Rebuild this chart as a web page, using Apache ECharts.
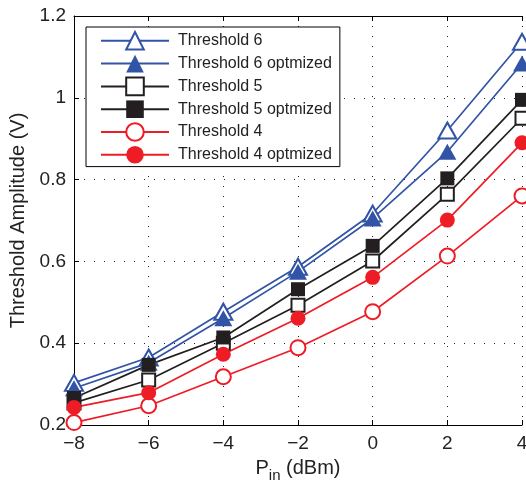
<!DOCTYPE html>
<html><head><meta charset="utf-8">
<script src="https://cdn.jsdelivr.net/npm/echarts@6/dist/echarts.min.js"></script>
<style>html,body{margin:0;padding:0;background:#fff}#c{width:526px;height:484px}</style>
</head><body><div id="c"></div>
<script>
var pin = [-8, -6, -4, -2, 0, 2, 4];
var th6    = [0.303, 0.365, 0.477, 0.587, 0.717, 0.920, 1.137];
var th6opt = [0.290, 0.352, 0.461, 0.575, 0.705, 0.868, 1.084];
var th5    = [0.254, 0.310, 0.400, 0.493, 0.601, 0.764, 0.950];
var th5opt = [0.266, 0.347, 0.414, 0.532, 0.638, 0.803, 0.995];
var th4    = [0.206, 0.247, 0.318, 0.389, 0.477, 0.613, 0.760];
var th4opt = [0.243, 0.279, 0.373, 0.461, 0.561, 0.701, 0.890];
var names = ['Threshold 6', 'Threshold 6 optmized', 'Threshold 5', 'Threshold 5 optmized', 'Threshold 4', 'Threshold 4 optmized'];

var BLUE = '#3254a6', BLACK = '#231f20', RED = '#ee1c25';
function pts(arr){ return pin.map(function(x,i){ return [x, arr[i]]; }); }
function ser(name, arr, color, symbol, size, empty){
  return {
    name: name, type: 'line', data: pts(arr), symbol: symbol, symbolSize: size,
    lineStyle: {color: color, width: 1.7},
    itemStyle: empty ? {color: color, borderColor: color, borderWidth: 1.7} : {color: color, borderColor: color, borderWidth: 0},
    color: color, z: 2, animation: false
  };
}
var font = 'Liberation Sans, Arial, Helvetica, sans-serif';
var chart = echarts.init(document.getElementById('c'));
chart.setOption({
  backgroundColor: '#fff',
  animation: false,
  grid: {left: 74, top: 16, right: 4, bottom: 59, outerBoundsMode: 'none', containLabel: false},
  legend: {
    orient: 'vertical', left: 86, top: 27,
    itemWidth: 68, itemHeight: 22, itemGap: 4.2,
    padding: [4, 8, 3, 14],
    borderColor: '#000', borderWidth: 1, backgroundColor: '#fff',
    textStyle: {fontFamily: font, fontSize: 16, color: '#222', padding: [0, 0, 0, 4]},
    data: names
  },
  xAxis: [{
    type: 'value', min: -8, max: 4, interval: 2,
    axisLine: {show: true, onZero: false, lineStyle: {color: '#000', width: 1}},
    axisTick: {show: true, inside: true, length: 5, lineStyle: {color: '#000'}},
    axisLabel: {fontFamily: font, fontSize: 19, color: '#222', margin: 9,
      formatter: function(v){ return String(v).replace('-', '\u2212'); }},
    splitLine: {show: true, lineStyle: {color: '#222', type: [1, 9], width: 1}},
    name: '{p|P}{s|in}{p| (dBm)}', nameLocation: 'middle', nameGap: 29,
    nameTextStyle: {fontFamily: font, color: '#222', rich: {
      p: {fontFamily: font, fontSize: 20, color: '#222'},
      s: {fontFamily: font, fontSize: 15, color: '#222', padding: [14, 0, 0, 0]}
    }}
  }, {
    type: 'value', min: -8, max: 4, interval: 2, position: 'top',
    axisLine: {show: true, onZero: false, lineStyle: {color: '#000', width: 1}},
    axisTick: {show: true, inside: true, length: 5, lineStyle: {color: '#000'}},
    axisLabel: {show: false}, splitLine: {show: false}
  }],
  yAxis: [{
    type: 'value', min: 0.2, max: 1.2, interval: 0.2,
    axisLine: {show: true, onZero: false, lineStyle: {color: '#000', width: 1}},
    axisTick: {show: true, inside: true, length: 5, lineStyle: {color: '#000'}},
    axisLabel: {fontFamily: font, fontSize: 19, color: '#222', margin: 8,
      formatter: function(v){ return String(Math.round(v*10)/10); }},
    splitLine: {show: true, lineStyle: {color: '#222', type: [1, 9], width: 1}},
    name: 'Threshold Amplitude (V)', nameLocation: 'middle', nameGap: 42,
    nameTextStyle: {fontFamily: font, fontSize: 20, color: '#222'}
  }],
  series: [
    ser(names[0], th6, BLUE, 'emptyTriangle', [18, 16], true),
    ser(names[1], th6opt, BLUE, 'triangle', [18, 16], false),
    ser(names[2], th5, BLACK, 'emptyRect', 13, true),
    ser(names[3], th5opt, BLACK, 'rect', 14, false),
    ser(names[4], th4, RED, 'emptyCircle', 15, true),
    ser(names[5], th4opt, RED, 'circle', 15, false)
  ]
});
</script></body></html>
